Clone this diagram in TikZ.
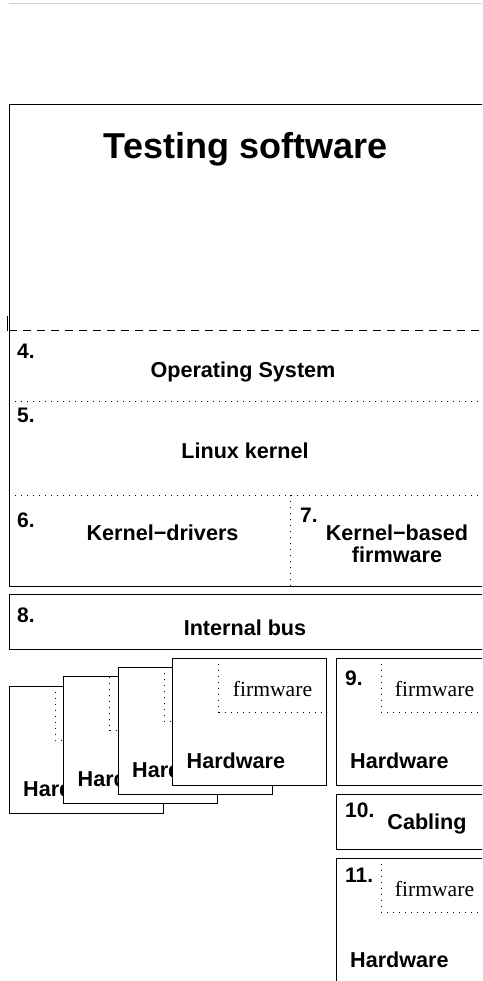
\documentclass[tikz,border=0pt]{standalone}
\usepackage{fontspec}
\setmainfont{Liberation Sans}
\newfontfamily\fwfont{Liberation Serif}
\tikzset{
  lbl/.style={inner sep=0pt, font=\fontsize{21.6}{26}\selectfont\bfseries, anchor=base},
  num/.style={inner sep=0pt, font=\fontsize{21}{26}\selectfont\bfseries, anchor=base west},
  fw/.style={inner sep=0pt, font=\fontsize{21.6}{26}\selectfont\fwfont, anchor=base},
  dots/.style={dash pattern=on 1pt off 5pt, line width=1pt},
  box/.style={draw, fill=white, line width=1pt}
}
\begin{document}
\begin{tikzpicture}[x=1pt,y=-1pt]
        \useasboundingbox (0,0) rectangle (482,981);
        \clip (0,0) rectangle (482,981);

        \draw[gray!35, line width=1pt] (9,4) -- (482,4);

        % software stack
        \draw[line width=1pt] (9,105) rectangle (560,586);
        \draw[line width=1pt] (7.5,316) -- (7.5,331);
        \draw[dash pattern=on 8pt off 6pt, line width=1pt] (9,330) -- (482,330);
        \draw[dots] (9,401) -- (482,401);
        \draw[dots] (9,495) -- (482,495);
        \draw[dots] (290,495) -- (290,586);

        \node[lbl, font=\fontsize{36}{40}\selectfont\bfseries] (soft) at (245.5,159) {Testing software};
        \node[num] (n4) at (17,358) {4.};
        \node[lbl] (os) at (243,377) {Operating System};
        \node[num] (n5) at (17,422) {5.};
        \node[lbl] (kern) at (245,458) {Linux kernel};
        \node[num] (n6) at (17,527) {6.};
        \node[lbl] (drv) at (162.5,540) {Kernel−drivers};
        \node[num] (n7) at (300,522) {7.};
        \node[lbl] (kfwa) at (397,540) {Kernel−based};
        \node[lbl] (kfwb) at (397,562) {firmware};

        % bus
        \draw[line width=1pt] (9,594) rectangle (560,649);
        \node[num] (n8) at (17,622) {8.};
        \node[lbl] (bus) at (245,635) {Internal bus};

        % stacked devices
        \foreach \i in {0,...,3}{
                \begin{scope}[shift={(9+54.5*\i,686-9.3*\i)}]
                        \draw[box] (0,0) rectangle (154,127);
                        \draw[dots] (46,0) -- (46,54) -- (154,54);
                        \node[fw] (fw\i) at (100,38) {firmware};
                        \node[lbl, anchor=base west] (hw\i) at (14,110) {Hardware};
                \end{scope}
            }

        \begin{scope}[shift={(336,658)}]
                \draw[box] (0,0) rectangle (200,127);
                \draw[dots] (45,0) -- (45,54) -- (200,54);
                \node[num] (n9) at (9,27) {9.};
                \node[fw] (fw9) at (98.5,38) {firmware};
                \node[lbl, anchor=base west] (hw9) at (14,110) {Hardware};
        \end{scope}

        \begin{scope}[shift={(336,794)}]
                \draw[box] (0,0) rectangle (200,55);
                \node[num] (n10) at (9,23) {10.};
                \node[lbl] (cab) at (91,35) {Cabling};
        \end{scope}

        \begin{scope}[shift={(336,858)}]
                \draw[box] (0,0) rectangle (200,200);
                \draw[dots] (45,0) -- (45,54) -- (200,54);
                \node[num] (n11) at (9,24) {11.};
                \node[fw] (fw11) at (98.5,38) {firmware};
                \node[lbl, anchor=base west] (hw11) at (14,109) {Hardware};
        \end{scope}
    \end{tikzpicture}
\end{document}
